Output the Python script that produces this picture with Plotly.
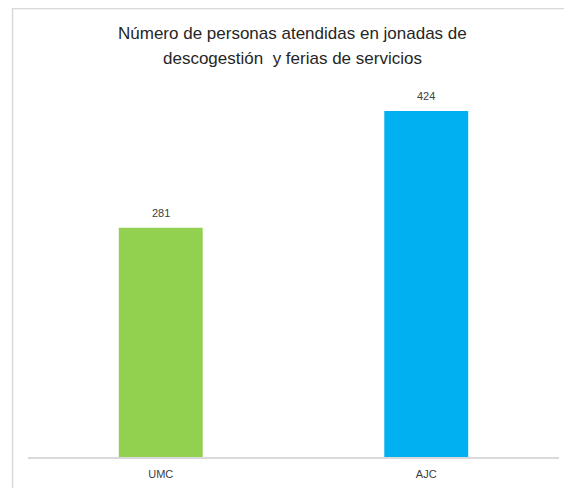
import plotly.graph_objects as go

categories = ["UMC", "AJC"]
values = [281, 424]
colors = ["#92D050", "#00B0F0"]
title_lines = ["Número de personas atendidas en jonadas de", "descogestión  y ferias de servicios"]

# page body has an 8px margin, so the figure is drawn offset by 8px
W, H = 564, 480
L, R, T, B = 19.5, 12.5, 72, 31
plot_h = H - T - B
plot_w = W - L - R
FONT = "Liberation Sans, Arial, sans-serif"

def px(x):
    return (x - L) / plot_w

def py(y):
    return (H - B - y) / plot_h

fig = go.Figure(go.Bar(
    x=categories, y=values, marker=dict(color=colors, line=dict(width=0)),
    hoverinfo="x+y",
))

annotations = [dict(
    text=line, xref="paper", yref="paper", x=px(284), y=py(yy),
    xanchor="center", yanchor="middle", showarrow=False,
    font=dict(family=FONT, size=17, color="#262626"),
) for line, yy in zip(title_lines, [25, 50])]

annotations += [dict(
    text=str(v), x=c, y=v, xref="x", yref="y", xanchor="center", yanchor="bottom",
    yshift=7, showarrow=False, font=dict(family=FONT, size=11, color="#404040"),
) for c, v in zip(categories, values)]

fig.update_layout(
    width=W, height=H,
    margin=dict(l=L, r=R, t=T, b=B, autoexpand=False),
    paper_bgcolor="white", plot_bgcolor="white",
    bargap=0.684,
    showlegend=False,
    xaxis=dict(showline=True, linecolor="#d9d9d9", linewidth=1.5, ticks="", showgrid=False,
               ticklabelstandoff=6, automargin=False,
               tickfont=dict(family=FONT, size=11, color="#404040")),
    yaxis=dict(visible=False, range=[0, plot_h * 424 / 346], showgrid=False, automargin=False),
    annotations=annotations,
    shapes=[dict(type="rect", xref="paper", yref="paper",
                 x0=px(4), x1=px(W + 5), y0=py(H + 5), y1=py(0.5),
                 line=dict(color="#d9d9d9", width=1.5), layer="below")],
)

fig.write_html("out.html")
